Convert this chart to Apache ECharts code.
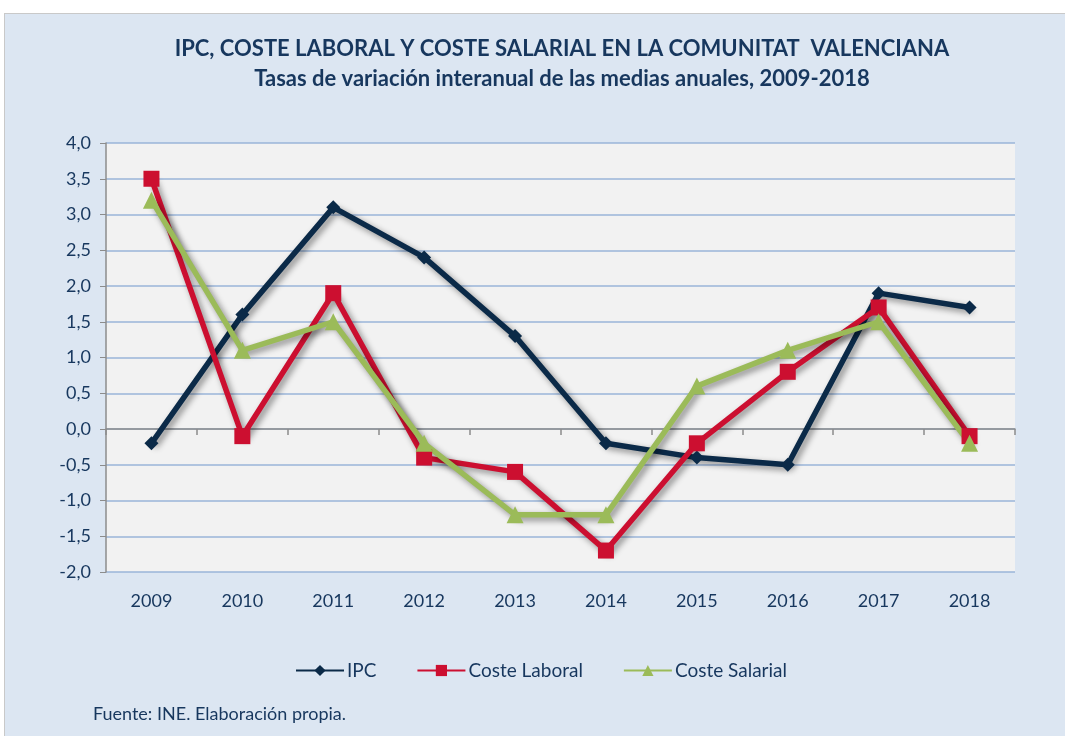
<!DOCTYPE html>
<html>
<head>
<meta charset="utf-8">
<script src="https://cdn.jsdelivr.net/npm/echarts@6/dist/echarts.min.js"></script>
<style>
  body { margin: 0; background: #ffffff; }
  #panel { position: absolute; left: 4px; top: 13px; width: 1061px; height: 723px; background: #dce6f2; border-top: 1px solid #c9c9c9; border-left: 1px solid #c9c9c9; }
  #main { position: absolute; left: 0; top: 0; width: 1065px; height: 736px; }
</style>
</head>
<body>
<div id="panel"></div>
<div id="main"></div>
<script>
// datos
const years = ['2009', '2010', '2011', '2012', '2013', '2014', '2015', '2016', '2017', '2018']
const ipc = [-0.2, 1.6, 3.1, 2.4, 1.3, -0.2, -0.4, -0.5, 1.9, 1.7]
const costeLaboral = [3.5, -0.1, 1.9, -0.4, -0.6, -1.7, -0.2, 0.8, 1.7, -0.1]
const costeSalarial = [3.2, 1.1, 1.5, -0.2, -1.2, -1.2, 0.6, 1.1, 1.5, -0.2]

const font = 'Lato, "Open Sans", sans-serif'
const textColor = '#17375e'

let myChart = echarts.init(document.getElementById('main'))

function lineSeries(name, data, color, symbol, size) {
  return {
    name: name,
    type: 'line',
    xAxisIndex: 0,
    data: data,
    symbol: symbol,
    symbolSize: size,
    showAllSymbol: true,
    lineStyle: {
      color: color,
      width: 5.5,
      shadowColor: 'rgba(0,0,0,0.45)',
      shadowBlur: 6,
      shadowOffsetX: 3,
      shadowOffsetY: 3
    },
    itemStyle: { color: color, opacity: 1 },
    emphasis: { disabled: true }
  }
}

var option = {
  animation: false,
  textStyle: { fontFamily: font },
  title: {
    text: 'IPC, COSTE LABORAL Y COSTE SALARIAL EN LA COMUNITAT  VALENCIANA\nTasas de variación interanual de las medias anuales, 2009-2018',
    left: 557,
    top: 29,
    textAlign: 'center',
    textStyle: { color: textColor, fontSize: 22, fontWeight: 'bold', lineHeight: 30, fontFamily: font }
  },
  legend: {
    top: 656,
    left: 290,
    itemWidth: 48,
    itemHeight: 14,
    itemGap: 40,
    textStyle: { color: textColor, fontSize: 19, fontFamily: font, padding: [0, 0, 0, -2] },
    data: ['IPC', 'Coste Laboral', 'Coste Salarial']
  },
  graphic: [{
    type: 'text',
    left: 93,
    top: 705,
    style: { text: 'Fuente: INE. Elaboración propia.', fill: textColor, font: '18px ' + font }
  }],
  grid: {
    left: 106,
    right: 50,
    top: 143,
    bottom: 164,
    show: true,
    backgroundColor: '#f2f2f2',
    borderWidth: 0
  },
  xAxis: [{
    type: 'category',
    data: years,
    position: 'bottom',
    axisLine: { show: false, onZero: false },
    axisTick: { show: false },
    axisLabel: { color: textColor, fontSize: 18, margin: 20, fontFamily: font }
  }, {
    type: 'category',
    data: years,
    position: 'top',
    axisLine: { show: true, onZero: true, lineStyle: { color: '#8c8c8c', width: 1.5 } },
    axisTick: { show: true, inside: true, length: 6, interval: 0, lineStyle: { color: '#8c8c8c', width: 1.5 } },
    axisLabel: { show: false }
  }],
  yAxis: {
    type: 'value',
    min: -2,
    max: 4,
    interval: 0.5,
    axisLine: { show: true, lineStyle: { color: '#8c8c8c', width: 1.5 } },
    axisTick: { show: true, length: 6, lineStyle: { color: '#8c8c8c' } },
    axisLabel: {
      color: textColor,
      fontSize: 18,
      margin: 15,
      fontFamily: font,
      formatter: v => v.toFixed(1).replace('.', ',')
    },
    splitLine: { lineStyle: { color: '#9ab5d8', width: 1.5 } }
  },
  series: [
    lineSeries('IPC', ipc, '#0b2a48', 'diamond', 14),
    lineSeries('Coste Laboral', costeLaboral, '#cc0f30', 'rect', 16),
    lineSeries('Coste Salarial', costeSalarial, '#9bbb59', 'triangle', 17)
  ]
}

myChart.setOption(option)
</script>
</body>
</html>
